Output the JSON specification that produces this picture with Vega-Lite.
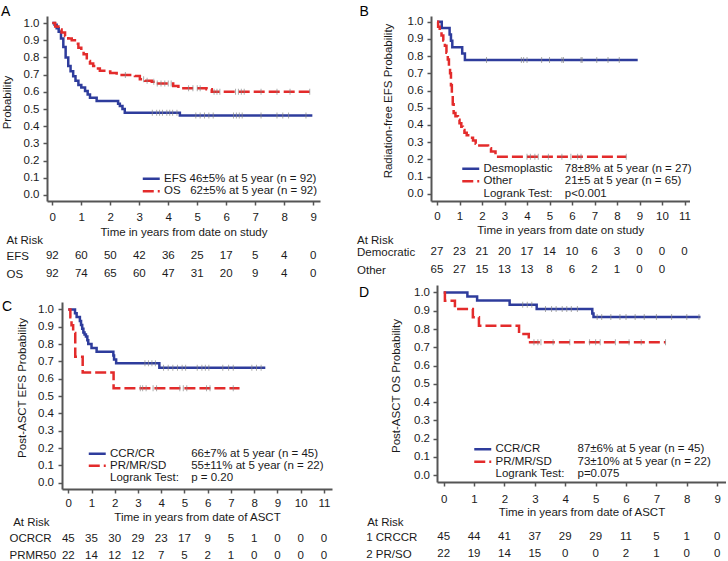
{
  "$schema": "https://vega.github.io/schema/vega-lite/v6.json",
  "padding": {"left": 1, "top": 4, "right": 0, "bottom": 0},
  "config": {
    "font": "Liberation Sans",
    "view": {"stroke": null},
    "axis": {"labelFont": "Liberation Sans", "titleFont": "Liberation Sans", "labelFontSize": 11.5, "labelColor": "#1a1a1a", "titleFontSize": 11.5, "titleFontWeight": "normal", "titleColor": "#1a1a1a", "domainColor": "#555555", "domainWidth": 2, "tickColor": "#555555", "tickWidth": 1.5, "tickSize": 4, "grid": false, "labelOverlap": false, "labelFlush": false},
    "legend": {"labelFont": "Liberation Sans", "labelFontSize": 11.5, "labelColor": "#1a1a1a", "padding": 0, "symbolType": "M-2,0H2", "symbolSize": 72, "symbolStrokeWidth": 2.5, "labelOffset": 7, "rowPadding": -0.5, "orient": "none"},
    "title": {"font": "Liberation Sans", "fontSize": 14, "fontWeight": "normal", "color": "#000000", "anchor": "start", "frame": "group", "offset": 0, "baseline": "alphabetic", "align": "left"},
    "text": {"font": "Liberation Sans", "fontSize": 11.5, "color": "#1a1a1a"}
  },
  "datasets": {
    "kmA": [
      {"g":"EFS","t":0,"s":1},{"g":"EFS","t":0.08,"s":0.99},{"g":"EFS","t":0.15,"s":0.97},{"g":"EFS","t":0.22,"s":0.95},{"g":"EFS","t":0.3,"s":0.91},{"g":"EFS","t":0.38,"s":0.86},{"g":"EFS","t":0.46,"s":0.8},{"g":"EFS","t":0.55,"s":0.75},{"g":"EFS","t":0.63,"s":0.72},{"g":"EFS","t":0.72,"s":0.69},{"g":"EFS","t":0.8,"s":0.665},{"g":"EFS","t":0.9,"s":0.64},{"g":"EFS","t":1.0,"s":0.625},{"g":"EFS","t":1.13,"s":0.605},{"g":"EFS","t":1.22,"s":0.585},{"g":"EFS","t":1.3,"s":0.566},{"g":"EFS","t":1.53,"s":0.547},{"g":"EFS","t":2.27,"s":0.53},{"g":"EFS","t":2.33,"s":0.518},{"g":"EFS","t":2.42,"s":0.5},{"g":"EFS","t":2.5,"s":0.479},{"g":"EFS","t":4.4,"s":0.462},{"g":"EFS","t":8.97,"s":0.462},
      {"g":"OS","t":0,"s":1},{"g":"OS","t":0.1,"s":0.98},{"g":"OS","t":0.21,"s":0.963},{"g":"OS","t":0.32,"s":0.945},{"g":"OS","t":0.44,"s":0.925},{"g":"OS","t":0.55,"s":0.91},{"g":"OS","t":0.67,"s":0.9},{"g":"OS","t":0.78,"s":0.88},{"g":"OS","t":0.9,"s":0.857},{"g":"OS","t":1.0,"s":0.835},{"g":"OS","t":1.08,"s":0.818},{"g":"OS","t":1.19,"s":0.78},{"g":"OS","t":1.3,"s":0.765},{"g":"OS","t":1.41,"s":0.75},{"g":"OS","t":1.52,"s":0.735},{"g":"OS","t":1.64,"s":0.722},{"g":"OS","t":1.87,"s":0.718},{"g":"OS","t":2.0,"s":0.71},{"g":"OS","t":2.22,"s":0.698},{"g":"OS","t":2.85,"s":0.692},{"g":"OS","t":3.02,"s":0.673},{"g":"OS","t":3.2,"s":0.665},{"g":"OS","t":3.43,"s":0.659},{"g":"OS","t":3.6,"s":0.648},{"g":"OS","t":4.17,"s":0.634},{"g":"OS","t":4.35,"s":0.621},{"g":"OS","t":5.32,"s":0.615},{"g":"OS","t":5.5,"s":0.601},{"g":"OS","t":8.97,"s":0.601}
    ],
    "cenA": [
      {"t":3.45,"s":0.479},{"t":3.6,"s":0.479},{"t":3.7,"s":0.479},{"t":3.8,"s":0.479},{"t":3.95,"s":0.479},{"t":4.05,"s":0.479},{"t":4.15,"s":0.479},{"t":4.3,"s":0.479},
      {"t":4.95,"s":0.462},{"t":5.1,"s":0.462},{"t":5.25,"s":0.462},{"t":5.4,"s":0.462},{"t":5.55,"s":0.462},{"t":6.25,"s":0.462},{"t":6.35,"s":0.462},{"t":6.45,"s":0.462},{"t":6.55,"s":0.462},{"t":7.2,"s":0.462},{"t":7.75,"s":0.462},{"t":7.95,"s":0.462},{"t":8.15,"s":0.462},{"t":8.75,"s":0.462},
      {"t":2.52,"s":0.698},{"t":3.15,"s":0.673},{"t":3.27,"s":0.665},{"t":3.5,"s":0.659},{"t":3.62,"s":0.648},{"t":3.75,"s":0.648},{"t":3.88,"s":0.648},{"t":4.0,"s":0.648},{"t":4.1,"s":0.648},{"t":4.7,"s":0.621},{"t":4.85,"s":0.621},{"t":5.0,"s":0.621},{"t":5.1,"s":0.621},{"t":5.58,"s":0.601},{"t":5.68,"s":0.601},{"t":5.78,"s":0.601},{"t":6.32,"s":0.601},{"t":6.42,"s":0.601},{"t":6.52,"s":0.601},{"t":6.62,"s":0.601},{"t":7.2,"s":0.601},{"t":7.75,"s":0.601},{"t":8.2,"s":0.601},{"t":8.88,"s":0.601}
    ],
    "riskA": [
      {"row":"EFS","t":0,"n":92},{"row":"EFS","t":1,"n":60},{"row":"EFS","t":2,"n":50},{"row":"EFS","t":3,"n":42},{"row":"EFS","t":4,"n":36},{"row":"EFS","t":5,"n":25},{"row":"EFS","t":6,"n":17},{"row":"EFS","t":7,"n":5},{"row":"EFS","t":8,"n":4},{"row":"EFS","t":9,"n":0},
      {"row":"OS","t":0,"n":92},{"row":"OS","t":1,"n":74},{"row":"OS","t":2,"n":65},{"row":"OS","t":3,"n":60},{"row":"OS","t":4,"n":47},{"row":"OS","t":5,"n":31},{"row":"OS","t":6,"n":20},{"row":"OS","t":7,"n":9},{"row":"OS","t":8,"n":4},{"row":"OS","t":9,"n":0}
    ],
    "kmB": [
      {"g":"Desmoplastic","t":0,"s":1},{"g":"Desmoplastic","t":0.21,"s":0.963},{"g":"Desmoplastic","t":0.56,"s":0.926},{"g":"Desmoplastic","t":0.62,"s":0.889},{"g":"Desmoplastic","t":0.68,"s":0.852},{"g":"Desmoplastic","t":1.12,"s":0.815},{"g":"Desmoplastic","t":1.24,"s":0.778},{"g":"Desmoplastic","t":8.92,"s":0.778},
      {"g":"Other","t":0,"s":1},{"g":"Other","t":0.05,"s":0.97},{"g":"Other","t":0.12,"s":0.95},{"g":"Other","t":0.2,"s":0.92},{"g":"Other","t":0.28,"s":0.89},{"g":"Other","t":0.35,"s":0.86},{"g":"Other","t":0.42,"s":0.82},{"g":"Other","t":0.48,"s":0.78},{"g":"Other","t":0.53,"s":0.74},{"g":"Other","t":0.58,"s":0.7},{"g":"Other","t":0.62,"s":0.63},{"g":"Other","t":0.66,"s":0.57},{"g":"Other","t":0.7,"s":0.52},{"g":"Other","t":0.74,"s":0.47},{"g":"Other","t":0.82,"s":0.45},{"g":"Other","t":0.93,"s":0.43},{"g":"Other","t":1.0,"s":0.41},{"g":"Other","t":1.08,"s":0.39},{"g":"Other","t":1.15,"s":0.37},{"g":"Other","t":1.22,"s":0.355},{"g":"Other","t":1.32,"s":0.34},{"g":"Other","t":1.45,"s":0.325},{"g":"Other","t":1.6,"s":0.31},{"g":"Other","t":1.72,"s":0.29},{"g":"Other","t":1.82,"s":0.28},{"g":"Other","t":2.27,"s":0.265},{"g":"Other","t":2.4,"s":0.245},{"g":"Other","t":2.6,"s":0.215},{"g":"Other","t":8.41,"s":0.215}
    ],
    "cenB": [
      {"t":2.2,"s":0.778},{"t":3.75,"s":0.778},{"t":3.85,"s":0.778},{"t":4.0,"s":0.778},{"t":4.65,"s":0.778},{"t":5.0,"s":0.778},{"t":5.55,"s":0.778},{"t":5.62,"s":0.778},{"t":6.4,"s":0.778},{"t":6.45,"s":0.778},{"t":7.1,"s":0.778},{"t":7.6,"s":0.778},{"t":8.1,"s":0.778},
      {"t":4.0,"s":0.215},{"t":4.15,"s":0.215},{"t":4.35,"s":0.215},{"t":4.5,"s":0.215},{"t":4.95,"s":0.215},{"t":5.55,"s":0.215},{"t":5.95,"s":0.215},{"t":6.25,"s":0.215},{"t":6.4,"s":0.215},{"t":8.41,"s":0.215}
    ],
    "statsB": [{"stat":"78±8% at 5 year (n = 27)"},{"stat":"21±5 at 5 year (n = 65)"},{"stat":"p<0.001"}],
    "riskB": [
      {"row":"Democratic","t":0,"n":27},{"row":"Democratic","t":1,"n":23},{"row":"Democratic","t":2,"n":21},{"row":"Democratic","t":3,"n":20},{"row":"Democratic","t":4,"n":17},{"row":"Democratic","t":5,"n":14},{"row":"Democratic","t":6,"n":10},{"row":"Democratic","t":7,"n":6},{"row":"Democratic","t":8,"n":3},{"row":"Democratic","t":9,"n":0},{"row":"Democratic","t":10,"n":0},{"row":"Democratic","t":11,"n":0},
      {"row":"Other","t":0,"n":65},{"row":"Other","t":1,"n":27},{"row":"Other","t":2,"n":15},{"row":"Other","t":3,"n":13},{"row":"Other","t":4,"n":13},{"row":"Other","t":5,"n":8},{"row":"Other","t":6,"n":6},{"row":"Other","t":7,"n":2},{"row":"Other","t":8,"n":1},{"row":"Other","t":9,"n":0},{"row":"Other","t":10,"n":0}
    ],
    "kmC": [
      {"g":"CCR/CR","t":0,"s":1},{"g":"CCR/CR","t":0.29,"s":0.978},{"g":"CCR/CR","t":0.36,"s":0.956},{"g":"CCR/CR","t":0.5,"s":0.933},{"g":"CCR/CR","t":0.55,"s":0.911},{"g":"CCR/CR","t":0.6,"s":0.889},{"g":"CCR/CR","t":0.65,"s":0.867},{"g":"CCR/CR","t":0.7,"s":0.856},{"g":"CCR/CR","t":0.76,"s":0.844},{"g":"CCR/CR","t":0.82,"s":0.822},{"g":"CCR/CR","t":0.86,"s":0.8},{"g":"CCR/CR","t":1.0,"s":0.778},{"g":"CCR/CR","t":1.22,"s":0.756},{"g":"CCR/CR","t":1.94,"s":0.734},{"g":"CCR/CR","t":1.97,"s":0.711},{"g":"CCR/CR","t":2.06,"s":0.689},{"g":"CCR/CR","t":3.92,"s":0.663},{"g":"CCR/CR","t":8.48,"s":0.663},
      {"g":"PR/MR/SD","t":0,"s":1},{"g":"PR/MR/SD","t":0.09,"s":0.955},{"g":"PR/MR/SD","t":0.14,"s":0.909},{"g":"PR/MR/SD","t":0.21,"s":0.864},{"g":"PR/MR/SD","t":0.3,"s":0.727},{"g":"PR/MR/SD","t":0.62,"s":0.636},{"g":"PR/MR/SD","t":1.95,"s":0.545},{"g":"PR/MR/SD","t":7.37,"s":0.545}
    ],
    "cenC": [
      {"t":3.3,"s":0.689},{"t":3.45,"s":0.689},{"t":3.6,"s":0.689},{"t":3.75,"s":0.689},
      {"t":4.1,"s":0.663},{"t":4.3,"s":0.663},{"t":4.5,"s":0.663},{"t":4.7,"s":0.663},{"t":4.9,"s":0.663},{"t":5.05,"s":0.663},{"t":5.55,"s":0.663},{"t":5.75,"s":0.663},{"t":5.9,"s":0.663},{"t":6.05,"s":0.663},{"t":6.65,"s":0.663},{"t":6.9,"s":0.663},{"t":7.1,"s":0.663},{"t":7.9,"s":0.663},{"t":8.1,"s":0.663},{"t":8.3,"s":0.663},
      {"t":3.1,"s":0.545},{"t":3.2,"s":0.545},{"t":3.35,"s":0.545},{"t":3.65,"s":0.545},{"t":3.8,"s":0.545},{"t":4.8,"s":0.545},{"t":4.95,"s":0.545},{"t":5.1,"s":0.545},{"t":5.95,"s":0.545},{"t":6.1,"s":0.545},{"t":7.1,"s":0.545}
    ],
    "statsC": [{"stat":"66±7% at 5 year (n = 45)"},{"stat":"55±11% at 5 year (n = 22)"},{"stat":"p = 0.20"}],
    "riskC": [
      {"row":"OCRCR","t":0,"n":45},{"row":"OCRCR","t":1,"n":35},{"row":"OCRCR","t":2,"n":30},{"row":"OCRCR","t":3,"n":29},{"row":"OCRCR","t":4,"n":23},{"row":"OCRCR","t":5,"n":17},{"row":"OCRCR","t":6,"n":9},{"row":"OCRCR","t":7,"n":5},{"row":"OCRCR","t":8,"n":1},{"row":"OCRCR","t":9,"n":0},{"row":"OCRCR","t":10,"n":0},{"row":"OCRCR","t":11,"n":0},
      {"row":"PRMR50","t":0,"n":22},{"row":"PRMR50","t":1,"n":14},{"row":"PRMR50","t":2,"n":12},{"row":"PRMR50","t":3,"n":12},{"row":"PRMR50","t":4,"n":7},{"row":"PRMR50","t":5,"n":5},{"row":"PRMR50","t":6,"n":2},{"row":"PRMR50","t":7,"n":1},{"row":"PRMR50","t":8,"n":0},{"row":"PRMR50","t":9,"n":0},{"row":"PRMR50","t":10,"n":0},{"row":"PRMR50","t":11,"n":0}
    ],
    "kmD": [
      {"g":"CCR/CR","t":0,"s":1},{"g":"CCR/CR","t":0.78,"s":0.978},{"g":"CCR/CR","t":1.1,"s":0.956},{"g":"CCR/CR","t":2.17,"s":0.933},{"g":"CCR/CR","t":3.06,"s":0.909},{"g":"CCR/CR","t":4.89,"s":0.885},{"g":"CCR/CR","t":4.93,"s":0.866},{"g":"CCR/CR","t":8.45,"s":0.866},
      {"g":"PR/MR/SD","t":0,"s":1},{"g":"PR/MR/SD","t":0.04,"s":0.955},{"g":"PR/MR/SD","t":0.37,"s":0.909},{"g":"PR/MR/SD","t":0.96,"s":0.864},{"g":"PR/MR/SD","t":1.16,"s":0.818},{"g":"PR/MR/SD","t":2.48,"s":0.773},{"g":"PR/MR/SD","t":2.8,"s":0.727},{"g":"PR/MR/SD","t":7.3,"s":0.727}
    ],
    "cenD": [
      {"t":2.6,"s":0.933},{"t":2.75,"s":0.933},{"t":2.9,"s":0.933},
      {"t":3.35,"s":0.909},{"t":3.55,"s":0.909},{"t":3.7,"s":0.909},{"t":3.9,"s":0.909},{"t":4.05,"s":0.909},{"t":4.2,"s":0.909},{"t":4.4,"s":0.909},
      {"t":5.05,"s":0.866},{"t":5.2,"s":0.866},{"t":5.5,"s":0.866},{"t":5.8,"s":0.866},{"t":6.0,"s":0.866},{"t":6.3,"s":0.866},{"t":6.6,"s":0.866},{"t":7.0,"s":0.866},{"t":7.5,"s":0.866},{"t":8.0,"s":0.866},{"t":8.4,"s":0.866},
      {"t":2.97,"s":0.727},{"t":3.1,"s":0.727},{"t":3.2,"s":0.727},{"t":3.6,"s":0.727},{"t":4.15,"s":0.727},{"t":4.8,"s":0.727},{"t":5.0,"s":0.727},{"t":5.15,"s":0.727},{"t":5.65,"s":0.727},{"t":6.1,"s":0.727},{"t":6.5,"s":0.727},{"t":7.3,"s":0.727}
    ],
    "statsD": [{"stat":"87±6% at 5 year (n = 45)"},{"stat":"73±10% at 5 year (n = 22)"},{"stat":"p=0.075"}],
    "riskD": [
      {"row":"1 CRCCR","t":0,"n":45},{"row":"1 CRCCR","t":1,"n":44},{"row":"1 CRCCR","t":2,"n":41},{"row":"1 CRCCR","t":3,"n":37},{"row":"1 CRCCR","t":4,"n":29},{"row":"1 CRCCR","t":5,"n":29},{"row":"1 CRCCR","t":6,"n":11},{"row":"1 CRCCR","t":7,"n":5},{"row":"1 CRCCR","t":8,"n":1},{"row":"1 CRCCR","t":9,"n":0},
      {"row":"2 PR/SO","t":0,"n":22},{"row":"2 PR/SO","t":1,"n":19},{"row":"2 PR/SO","t":2,"n":14},{"row":"2 PR/SO","t":3,"n":15},{"row":"2 PR/SO","t":4,"n":0},{"row":"2 PR/SO","t":5,"n":0},{"row":"2 PR/SO","t":6,"n":2},{"row":"2 PR/SO","t":7,"n":1},{"row":"2 PR/SO","t":8,"n":0},{"row":"2 PR/SO","t":9,"n":0}
    ],
    "blank": [{}]
  },
  "spacing": 2,
  "resolve": {"scale": {"color": "independent", "strokeDash": "independent", "fill": "independent"}, "legend": {"color": "independent", "strokeDash": "independent", "fill": "independent"}},
  "vconcat": [
    {
      "spacing": 36,
      "resolve": {"scale": {"color": "independent", "strokeDash": "independent", "fill": "independent"}, "legend": {"color": "independent", "strokeDash": "independent", "fill": "independent"}},
      "hconcat": [
        {
          "bounds": "flush",
          "spacing": 46,
          "resolve": {"scale": {"color": "independent", "strokeDash": "independent", "fill": "independent"}, "legend": {"color": "independent", "strokeDash": "independent", "fill": "independent"}},
          "vconcat": [
            {
              "width": 273, "height": 185,
              "title": {"text": "A", "dx": -46, "dy": 7},
              "layer": [
                {
                  "data": {"name": "kmA"},
                  "mark": {"type": "line", "interpolate": "step-after", "strokeWidth": 2.5},
                  "encoding": {
                    "x": {"field": "t", "type": "quantitative", "scale": {"domain": [-0.183, 9.234], "nice": false, "zero": false}, "axis": {"values": [0,1,2,3,4,5,6,7,8,9], "tickCount": 10, "format": "d", "labelOverlap": false, "labelPadding": 6, "title": "Time in years from date on study", "titleY": 31, "titleBaseline": "middle"}},
                    "y": {"field": "s", "type": "quantitative", "scale": {"domain": [-0.035, 1.041], "nice": false, "zero": false}, "axis": {"values": [0,0.1,0.2,0.3,0.4,0.5,0.6,0.7,0.8,0.9,1], "tickCount": 11, "format": ".1f", "labelOverlap": false, "labelPadding": 4, "title": "Probability", "titleX": -39.5, "titleY": 86, "titleBaseline": "middle"}},
                    "color": {"field": "g", "type": "nominal", "scale": {"domain": ["EFS","OS"], "range": ["#2e3c9c","#e32b2b"]}, "legend": {"title": null, "legendX": 98.5, "legendY": 157, "labelExpr": "datum.label == 'EFS' ? 'EFS 46±5% at 5 year (n = 92)' : 'OS\u00a0\u00a0\u00a062±5% at 5 year (n = 92)'"}},
                    "strokeDash": {"field": "g", "type": "nominal", "scale": {"domain": ["EFS","OS"], "range": [[1,0],[11,4]]}, "legend": {"title": null, "legendX": 98.5, "legendY": 157, "labelExpr": "datum.label == 'EFS' ? 'EFS 46±5% at 5 year (n = 92)' : 'OS\u00a0\u00a0\u00a062±5% at 5 year (n = 92)'"}}
                  }
                },
                {
                  "data": {"name": "cenA"},
                  "mark": {"type": "tick", "orient": "vertical", "size": 6, "thickness": 1, "color": "#888888"},
                  "encoding": {"x": {"field": "t", "type": "quantitative"}, "y": {"field": "s", "type": "quantitative"}}
                }
              ]
            },
            {
              "width": 273, "height": 36,
              "data": {"name": "riskA"},
              "mark": {"type": "text"},
              "encoding": {
                "x": {"field": "t", "type": "quantitative", "scale": {"domain": [-0.183, 9.234], "nice": false, "zero": false}, "axis": null},
                "y": {"field": "row", "type": "nominal", "scale": {"type": "point", "domain": ["EFS","OS"], "padding": 0.5}, "axis": {"domain": false, "ticks": false, "tickSize": 0, "labelAlign": "left", "labelPadding": 41, "title": "At Risk", "titleAngle": 0, "titleAlign": "left", "titleBaseline": "middle", "titleX": -41, "titleY": -7}},
                "text": {"field": "n", "type": "quantitative"}
              }
            }
          ]
        },
        {
          "bounds": "flush",
          "spacing": 42,
          "resolve": {"scale": {"color": "independent", "strokeDash": "independent", "fill": "independent"}, "legend": {"color": "independent", "strokeDash": "independent", "fill": "independent"}},
          "vconcat": [
            {
              "width": 258.5, "height": 185,
              "title": {"text": "B", "dx": -71.5, "dy": 7},
              "layer": [
                {
                  "data": {"name": "kmB"},
                  "mark": {"type": "line", "interpolate": "step-after", "strokeWidth": 2.5},
                  "encoding": {
                    "x": {"field": "t", "type": "quantitative", "scale": {"domain": [-0.267, 11.222], "nice": false, "zero": false}, "axis": {"values": [0,1,2,3,4,5,6,7,8,9,10,11], "tickCount": 12, "format": "d", "labelOverlap": false, "labelPadding": 5, "title": "Time in years from date on study", "titleY": 29.3, "titleBaseline": "middle"}},
                    "y": {"field": "s", "type": "quantitative", "scale": {"domain": [-0.042, 1.033], "nice": false, "zero": false}, "axis": {"values": [0,0.1,0.2,0.3,0.4,0.5,0.6,0.7,0.8,0.9,1], "tickCount": 11, "format": ".1f", "labelOverlap": false, "labelPadding": 4, "title": "Radiation-free EFS Probability", "titleX": -42.5, "titleY": 84.5, "titleBaseline": "middle"}},
                    "color": {"field": "g", "type": "nominal", "scale": {"domain": ["Desmoplastic","Other","Logrank Test:"], "range": ["#2e3c9c","#e32b2b","rgba(0,0,0,0)"]}, "legend": {"title": null, "legendX": 34, "legendY": 147}},
                    "strokeDash": {"field": "g", "type": "nominal", "scale": {"domain": ["Desmoplastic","Other","Logrank Test:"], "range": [[1,0],[11,4],[1,0]]}, "legend": {"title": null, "legendX": 34, "legendY": 147}}
                  }
                },
                {
                  "data": {"name": "cenB"},
                  "mark": {"type": "tick", "orient": "vertical", "size": 6, "thickness": 1, "color": "#888888"},
                  "encoding": {"x": {"field": "t", "type": "quantitative"}, "y": {"field": "s", "type": "quantitative"}}
                },
                {
                  "data": {"name": "statsB"},
                  "mark": {"type": "point", "opacity": 0},
                  "encoding": {"fill": {"field": "stat", "type": "nominal", "scale": {"domain": ["78±8% at 5 year (n = 27)","21±5 at 5 year (n = 65)","p<0.001"], "range": ["#000000","#000000","#000000"]}, "legend": {"title": null, "legendX": 115.3, "legendY": 147, "symbolOpacity": 0}}}
                }
              ]
            },
            {
              "width": 258.5, "height": 36,
              "data": {"name": "riskB"},
              "mark": {"type": "text"},
              "encoding": {
                "x": {"field": "t", "type": "quantitative", "scale": {"domain": [-0.267, 11.222], "nice": false, "zero": false}, "axis": null},
                "y": {"field": "row", "type": "nominal", "scale": {"type": "point", "domain": ["Democratic","Other"], "padding": 0.5}, "axis": {"domain": false, "ticks": false, "tickSize": 0, "labelAlign": "left", "labelPadding": 74.5, "title": "At Risk", "titleAngle": 0, "titleAlign": "left", "titleBaseline": "middle", "titleX": -74.5, "titleY": -3}},
                "text": {"field": "n", "type": "quantitative"}
              }
            }
          ]
        }
      ]
    },
    {
      "spacing": 27,
      "resolve": {"scale": {"color": "independent", "strokeDash": "independent", "fill": "independent"}, "legend": {"color": "independent", "strokeDash": "independent", "fill": "independent"}},
      "hconcat": [
        {
          "bounds": "flush",
          "spacing": 0,
          "resolve": {"scale": {"color": "independent", "strokeDash": "independent", "fill": "independent"}, "legend": {"color": "independent", "strokeDash": "independent", "fill": "independent"}},
          "vconcat": [
            {"width": 285, "height": 17, "data": {"name": "blank"}, "mark": {"type": "text", "text": ""}},
            {
              "width": 285, "height": 187,
              "title": {"text": "C", "dx": -45, "dy": 15.5},
              "layer": [
                {
                  "data": {"name": "kmC"},
                  "mark": {"type": "line", "interpolate": "step-after", "strokeWidth": 2.5},
                  "encoding": {
                    "x": {"field": "t", "type": "quantitative", "scale": {"domain": [-0.27, 11.35], "range": [15, 285], "nice": false, "zero": false}, "axis": {"values": [0,1,2,3,4,5,6,7,8,9,10,11], "tickCount": 12, "format": "d", "labelOverlap": false, "labelPadding": 4.7, "title": "Time in years from date of ASCT", "titleY": 28.7, "titleBaseline": "middle"}},
                    "y": {"field": "s", "type": "quantitative", "scale": {"domain": [-0.036, 1.043], "nice": false, "zero": false}, "axis": {"offset": -15, "values": [0,0.1,0.2,0.3,0.4,0.5,0.6,0.7,0.8,0.9,1], "tickCount": 11, "format": ".1f", "labelOverlap": false, "labelPadding": 4.5, "title": "Post-ASCT EFS Probability", "titleX": -39.5, "titleY": 85.5, "titleBaseline": "middle"}},
                    "color": {"field": "g", "type": "nominal", "scale": {"domain": ["CCR/CR","PR/MR/SD","Logrank Test:"], "range": ["#2e3c9c","#e32b2b","rgba(0,0,0,0)"]}, "legend": {"title": null, "legendX": 44.5, "legendY": 146, "rowPadding": -2.2}},
                    "strokeDash": {"field": "g", "type": "nominal", "scale": {"domain": ["CCR/CR","PR/MR/SD","Logrank Test:"], "range": [[1,0],[11,4],[1,0]]}, "legend": {"title": null, "legendX": 44.5, "legendY": 146, "rowPadding": -2.2}}
                  }
                },
                {
                  "data": {"name": "cenC"},
                  "mark": {"type": "tick", "orient": "vertical", "size": 6, "thickness": 1, "color": "#888888"},
                  "encoding": {"x": {"field": "t", "type": "quantitative"}, "y": {"field": "s", "type": "quantitative"}}
                },
                {
                  "data": {"name": "statsC"},
                  "mark": {"type": "point", "opacity": 0},
                  "encoding": {"fill": {"field": "stat", "type": "nominal", "scale": {"domain": ["66±7% at 5 year (n = 45)","55±11% at 5 year (n = 22)","p = 0.20"], "range": ["#000000","#000000","#000000"]}, "legend": {"title": null, "legendX": 125.7, "legendY": 146, "rowPadding": -2.2, "symbolOpacity": 0}}}
                }
              ]
            },
            {"width": 285, "height": 40.8, "data": {"name": "blank"}, "mark": {"type": "text", "text": ""}},
            {
              "width": 285, "height": 34,
              "data": {"name": "riskC"},
              "mark": {"type": "text"},
              "encoding": {
                "x": {"field": "t", "type": "quantitative", "scale": {"domain": [-0.27, 11.35], "range": [15, 285], "nice": false, "zero": false}, "axis": null},
                "y": {"field": "row", "type": "nominal", "scale": {"type": "point", "domain": ["OCRCR","PRMR50"], "padding": 0.5}, "axis": {"domain": false, "ticks": false, "tickSize": 0, "labelAlign": "left", "labelPadding": 38, "title": "At Risk", "titleAngle": 0, "titleAlign": "left", "titleBaseline": "middle", "titleX": -34.3, "titleY": -7.1}},
                "text": {"field": "n", "type": "quantitative"}
              }
            }
          ]
        },
        {
          "bounds": "flush",
          "spacing": 46.8,
          "resolve": {"scale": {"color": "independent", "strokeDash": "independent", "fill": "independent"}, "legend": {"color": "independent", "strokeDash": "independent", "fill": "independent"}},
          "vconcat": [
            {
              "width": 289, "height": 197,
              "title": {"text": "D", "dx": -78, "dy": 19},
              "layer": [
                {
                  "data": {"name": "kmD"},
                  "mark": {"type": "line", "interpolate": "step-after", "strokeWidth": 2.5},
                  "encoding": {
                    "x": {"field": "t", "type": "quantitative", "scale": {"domain": [-0.22, 9.29], "nice": false, "zero": false}, "axis": {"values": [0,1,2,3,4,5,6,7,8,9], "tickCount": 10, "format": "d", "labelOverlap": false, "labelPadding": 7.3, "title": "Time in years from date of ASCT", "titleY": 30.7, "titleBaseline": "middle"}},
                    "y": {"field": "s", "type": "quantitative", "scale": {"domain": [-0.038, 1.041], "nice": false, "zero": false}, "axis": {"values": [0,0.1,0.2,0.3,0.4,0.5,0.6,0.7,0.8,0.9,1], "tickCount": 11, "format": ".1f", "labelOverlap": false, "labelPadding": 3.5, "title": "Post-ASCT OS Probability", "titleX": -41, "titleY": 100.5, "titleBaseline": "middle"}},
                    "color": {"field": "g", "type": "nominal", "scale": {"domain": ["CCR/CR","PR/MR/SD","Logrank Test:"], "range": ["#2e3c9c","#e32b2b","rgba(0,0,0,0)"]}, "legend": {"title": null, "legendX": 40, "legendY": 158.5}},
                    "strokeDash": {"field": "g", "type": "nominal", "scale": {"domain": ["CCR/CR","PR/MR/SD","Logrank Test:"], "range": [[1,0],[11,4],[1,0]]}, "legend": {"title": null, "legendX": 40, "legendY": 158.5}}
                  }
                },
                {
                  "data": {"name": "cenD"},
                  "mark": {"type": "tick", "orient": "vertical", "size": 6, "thickness": 1, "color": "#888888"},
                  "encoding": {"x": {"field": "t", "type": "quantitative"}, "y": {"field": "s", "type": "quantitative"}}
                },
                {
                  "data": {"name": "statsD"},
                  "mark": {"type": "point", "opacity": 0},
                  "encoding": {"fill": {"field": "stat", "type": "nominal", "scale": {"domain": ["87±6% at 5 year (n = 45)","73±10% at 5 year (n = 22)","p=0.075"], "range": ["#000000","#000000","#000000"]}, "legend": {"title": null, "legendX": 122, "legendY": 158.5, "symbolOpacity": 0}}}
                }
              ]
            },
            {
              "width": 289, "height": 34,
              "data": {"name": "riskD"},
              "mark": {"type": "text"},
              "encoding": {
                "x": {"field": "t", "type": "quantitative", "scale": {"domain": [-0.22, 9.29], "nice": false, "zero": false}, "axis": null},
                "y": {"field": "row", "type": "nominal", "scale": {"type": "point", "domain": ["1 CRCCR","2 PR/SO"], "padding": 0.5}, "axis": {"domain": false, "ticks": false, "tickSize": 0, "labelAlign": "left", "labelPadding": 71.3, "title": "At Risk", "titleAngle": 0, "titleAlign": "left", "titleBaseline": "middle", "titleX": -70.3, "titleY": -6.1}},
                "text": {"field": "n", "type": "quantitative"}
              }
            }
          ]
        }
      ]
    }
  ]
}
